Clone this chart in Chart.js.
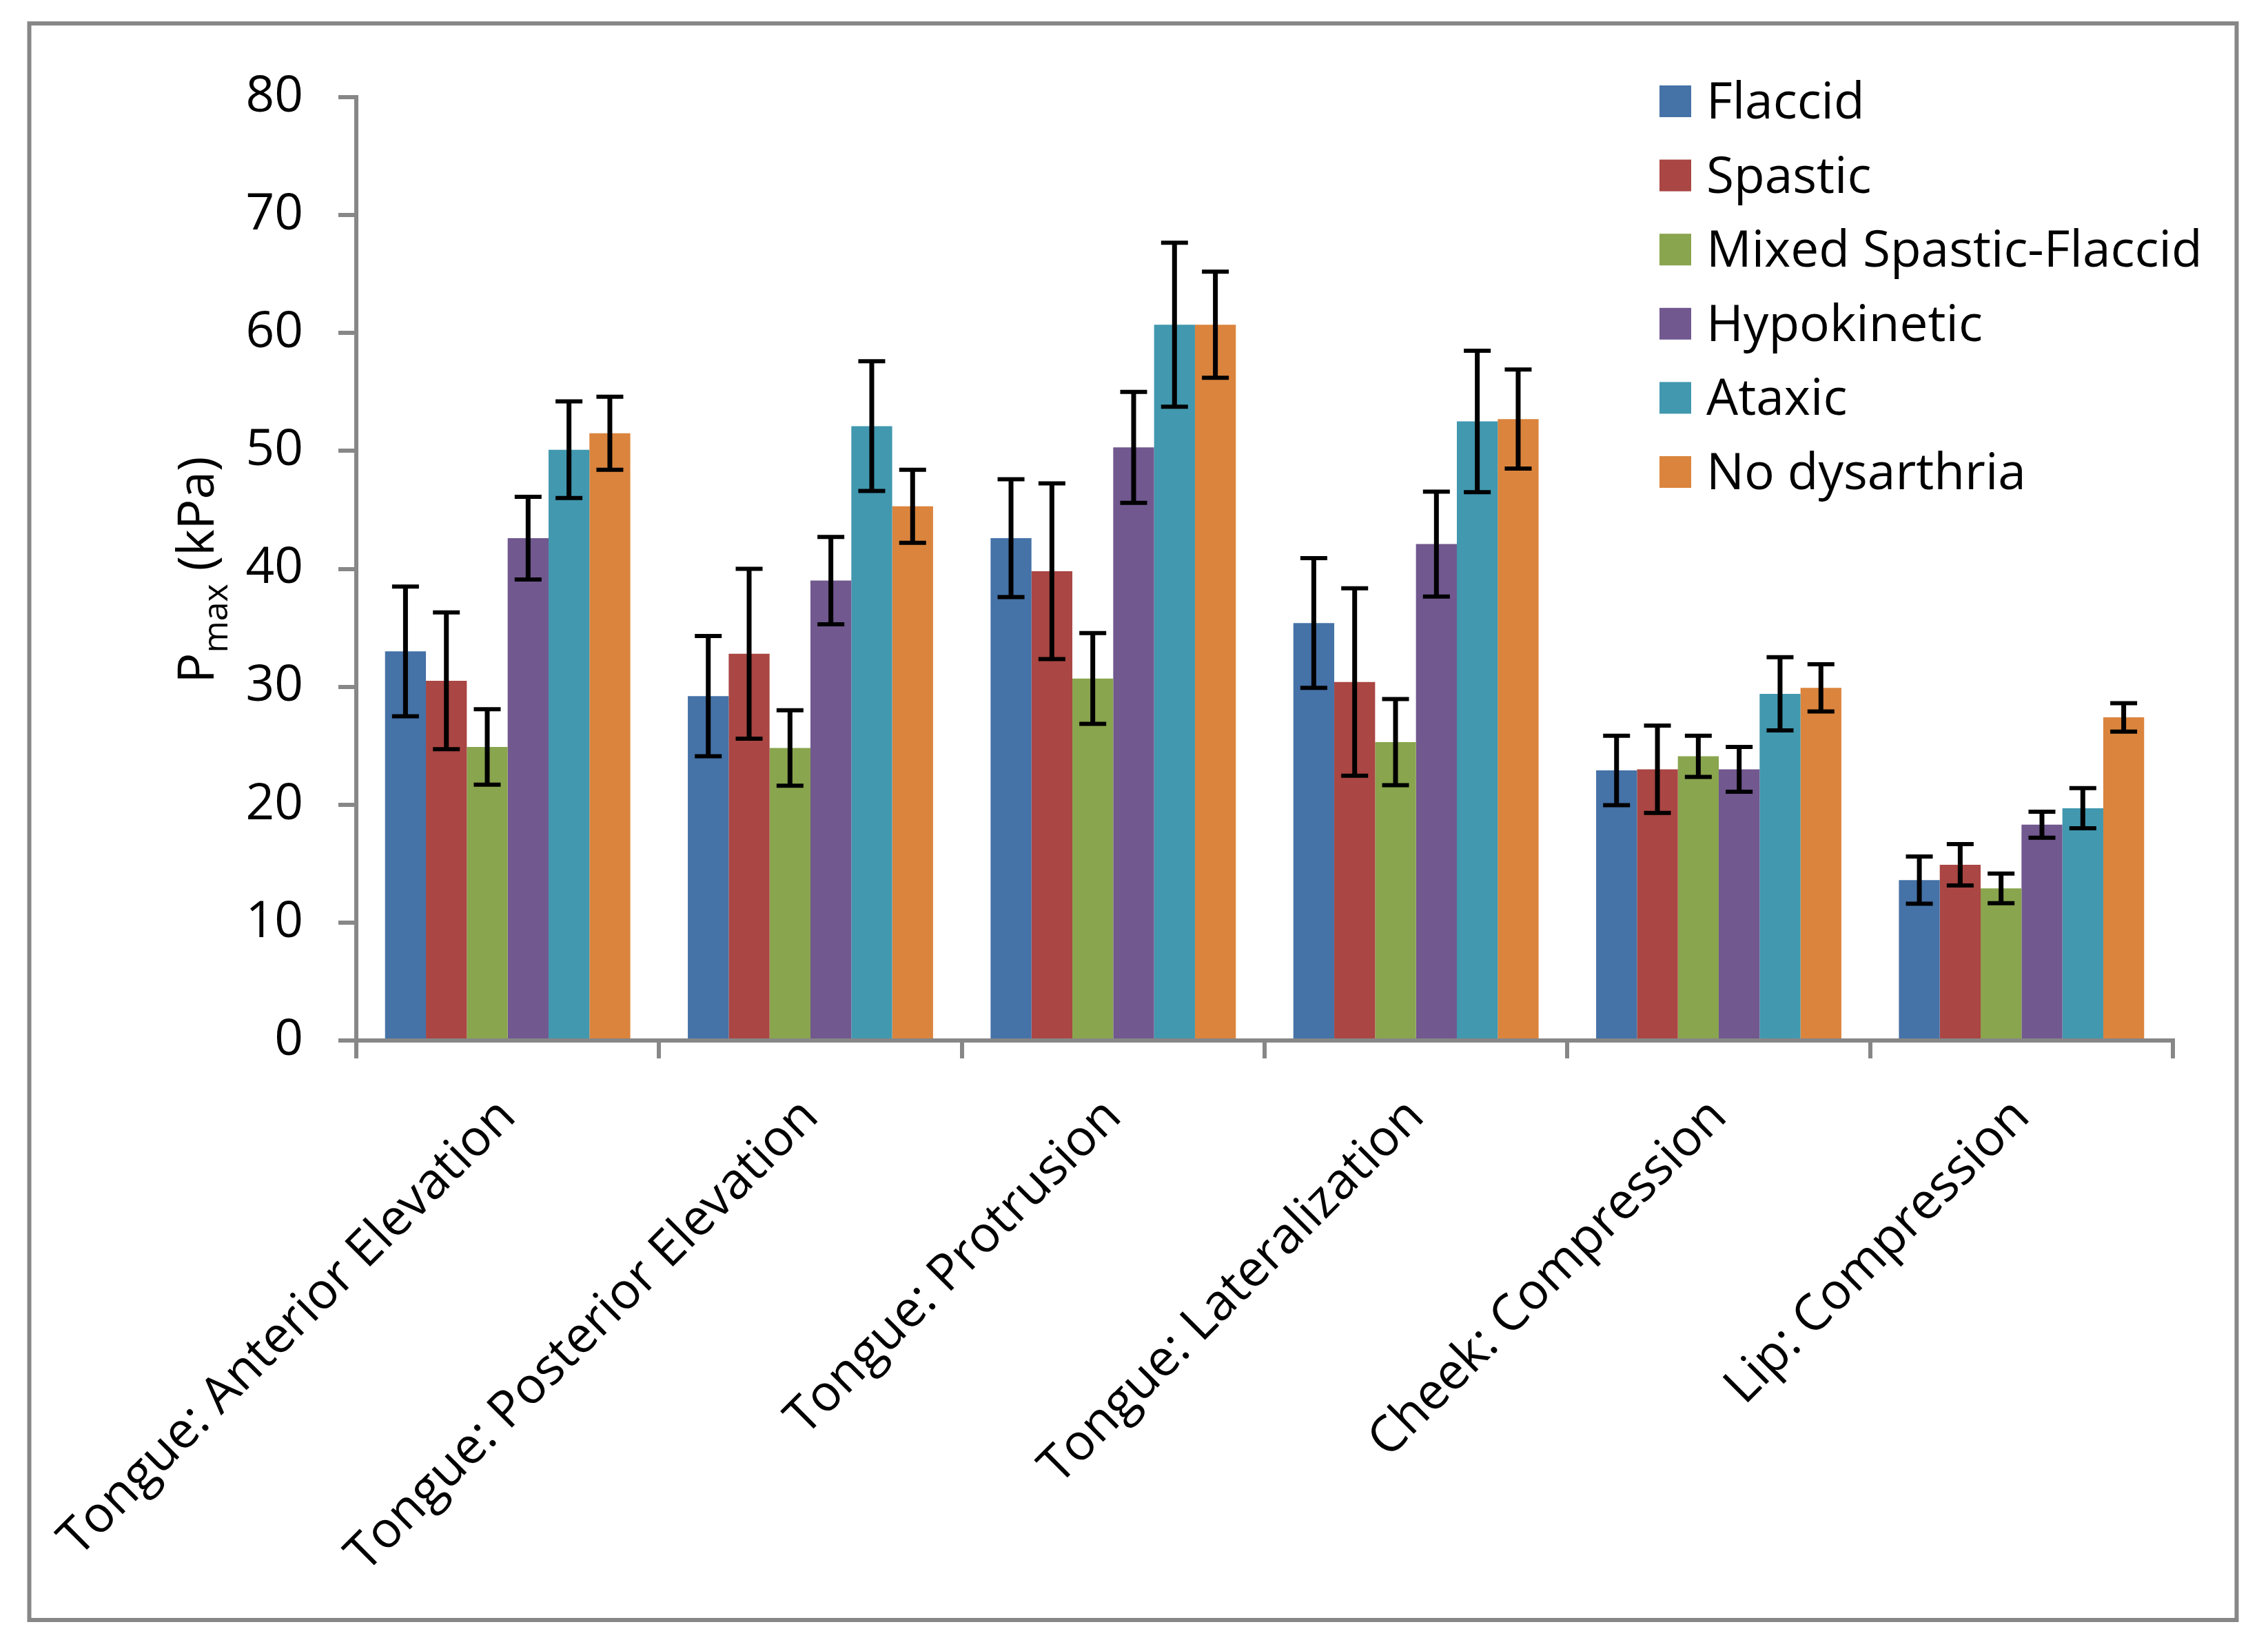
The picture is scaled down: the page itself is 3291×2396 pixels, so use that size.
<!DOCTYPE html>
<html>
<head>
<meta charset="utf-8">
<script src="https://cdn.jsdelivr.net/npm/chart.js@4.4.1/dist/chart.umd.min.js"></script>
<style>
  html, body { margin: 0; padding: 0; background: #fff; overflow: hidden; }
  canvas { display: block; }
</style>
</head>
<body>
<canvas id="myChart" width="3291" height="2396" style="width:3291px;height:2396px"></canvas>
<script>
const categories = ['Tongue: Anterior Elevation', 'Tongue: Posterior Elevation', 'Tongue: Protrusion',
  'Tongue: Lateralization', 'Cheek: Compression', 'Lip: Compression'];
const seriesNames = ['Flaccid', 'Spastic', 'Mixed Spastic-Flaccid', 'Hypokinetic', 'Ataxic', 'No dysarthria'];

const flaccid = [33.0, 29.2, 42.6, 35.4, 22.9, 13.6];
const spastic = [30.5, 32.8, 39.8, 30.4, 23.0, 14.9];
const mixed = [24.9, 24.8, 30.7, 25.3, 24.1, 12.9];
const hypokinetic = [42.6, 39.0, 50.3, 42.1, 23.0, 18.3];
const ataxic = [50.1, 52.1, 60.7, 52.5, 29.4, 19.7];
const noDysarthria = [51.5, 45.3, 60.7, 52.7, 29.9, 27.4];

// error bar half-lengths (kPa)
const flaccidErr = [5.5, 5.1, 5.0, 5.5, 2.95, 2.0];
const spasticErr = [5.8, 7.2, 7.45, 7.95, 3.7, 1.75];
const mixedErr = [3.2, 3.2, 3.85, 3.65, 1.75, 1.25];
const hypokineticErr = [3.5, 3.7, 4.7, 4.45, 1.9, 1.1];
const ataxicErr = [4.1, 5.5, 6.95, 6.0, 3.1, 1.7];
const noDysarthriaErr = [3.1, 3.1, 4.5, 4.2, 2.0, 1.2];

const yTicks = [0, 10, 20, 30, 40, 50, 60, 70, 80];

const colors = ['#4572A7', '#AA4643', '#89A54E', '#71588F', '#4198AF', '#DB843D'];
const gray = '#878787';
const fontName = 'Open Sans';

const values = [flaccid, spastic, mixed, hypokinetic, ataxic, noDysarthria];
const errors = [flaccidErr, spasticErr, mixedErr, hypokineticErr, ataxicErr, noDysarthriaErr];

Chart.defaults.font.family = fontName;

// white page + grey frame round the whole chart
const frame = {
  id: 'frame',
  beforeDraw(chart) {
    const ctx = chart.ctx;
    ctx.save();
    ctx.fillStyle = '#fff';
    ctx.fillRect(0, 0, chart.width, chart.height);
    ctx.strokeStyle = gray;
    ctx.lineWidth = 6;
    ctx.strokeRect(42.5, 34, 3203, 2317);
    ctx.restore();
  }
};

const errorBars = {
  id: 'errorBars',
  afterDatasetsDraw(chart) {
    const ctx = chart.ctx;
    const y = chart.scales.y;
    ctx.save();
    ctx.strokeStyle = '#000';
    chart.data.datasets.forEach((ds, i) => {
      chart.getDatasetMeta(i).data.forEach((bar, j) => {
        const top = y.getPixelForValue(ds.data[j] + ds.errors[j]);
        const bottom = y.getPixelForValue(ds.data[j] - ds.errors[j]);
        ctx.lineWidth = 7;
        ctx.beginPath();
        ctx.moveTo(bar.x, top);
        ctx.lineTo(bar.x, bottom);
        ctx.stroke();
        ctx.lineWidth = 6;
        ctx.beginPath();
        ctx.moveTo(bar.x - 19.5, top); ctx.lineTo(bar.x + 19.5, top);
        ctx.moveTo(bar.x - 19.5, bottom); ctx.lineTo(bar.x + 19.5, bottom);
        ctx.stroke();
      });
    });
    ctx.restore();
  }
};

const legendBox = {
  id: 'legendBox',
  afterDraw(chart) {
    const ctx = chart.ctx;
    ctx.save();
    ctx.font = '73px "' + fontName + '"';
    ctx.textBaseline = 'alphabetic';
    chart.data.datasets.forEach((ds, i) => {
      const cy = 147 + i * 107.6;
      ctx.fillStyle = ds.backgroundColor;
      ctx.fillRect(2408, cy - 23, 46, 46);
      ctx.fillStyle = '#000';
      ctx.fillText(ds.label, 2476, cy + 25);
    });
    ctx.restore();
  }
};

// y title with subscript: P_max (kPa)
const yTitle = {
  id: 'yTitle',
  afterDraw(chart) {
    const ctx = chart.ctx;
    ctx.save();
    const big = '73px "' + fontName + '"';
    const small = '50px "' + fontName + '"';
    ctx.font = big;
    const wP = ctx.measureText('P').width;
    const wRest = ctx.measureText(' (kPa)').width;
    ctx.font = small;
    const wSub = ctx.measureText('max').width;
    const total = wP + wSub + wRest;
    ctx.translate(310, 827);
    ctx.rotate(-Math.PI / 2);
    ctx.fillStyle = '#000';
    ctx.textBaseline = 'alphabetic';
    let x = -total / 2;
    ctx.font = big;
    ctx.fillText('P', x, 0);
    x += wP;
    ctx.font = small;
    ctx.fillText('max', x, 20);
    x += wSub;
    ctx.font = big;
    ctx.fillText(' (kPa)', x, 0);
    ctx.restore();
  }
};

const ctx = document.getElementById('myChart').getContext('2d');
const myChart = new Chart(ctx, {
  type: 'bar',
  data: {
    labels: categories,
    datasets: seriesNames.map((name, i) => ({
      label: name,
      data: values[i],
      errors: errors[i],
      backgroundColor: colors[i],
      borderWidth: 0,
      categoryPercentage: 0.81,
      barPercentage: 1.0
    }))
  },
  options: {
    responsive: false,
    devicePixelRatio: 1,
    animation: false,
    layout: { padding: { left: 0, top: 141, right: 138, bottom: 0 } },
    plugins: {
      legend: { display: false },
      tooltip: { enabled: false }
    },
    scales: {
      x: {
        grid: { offset: true, drawOnChartArea: false, drawTicks: true, tickLength: 26, lineWidth: 6, color: gray },
        border: { color: gray, width: 6 },
        ticks: { autoSkip: false, maxRotation: 45, minRotation: 45, padding: 42, color: '#000', font: { size: 73 } },
        afterFit(scale) {
          scale.height = 2396 - 1510;
          scale.paddingLeft = 0;
          scale.paddingRight = 0;
        }
      },
      y: {
        min: 0,
        max: 80,
        afterBuildTicks(scale) { scale.ticks = yTicks.map(v => ({ value: v })); },
        ticks: { padding: 51, color: '#000', font: { size: 73 } },
        grid: { drawOnChartArea: false, tickLength: 26, lineWidth: 6, color: gray },
        border: { color: gray, width: 6 },
        afterFit(scale) { scale.width = 517; }
      }
    }
  },
  plugins: [frame, errorBars, legendBox, yTitle]
});
</script>
</body>
</html>
